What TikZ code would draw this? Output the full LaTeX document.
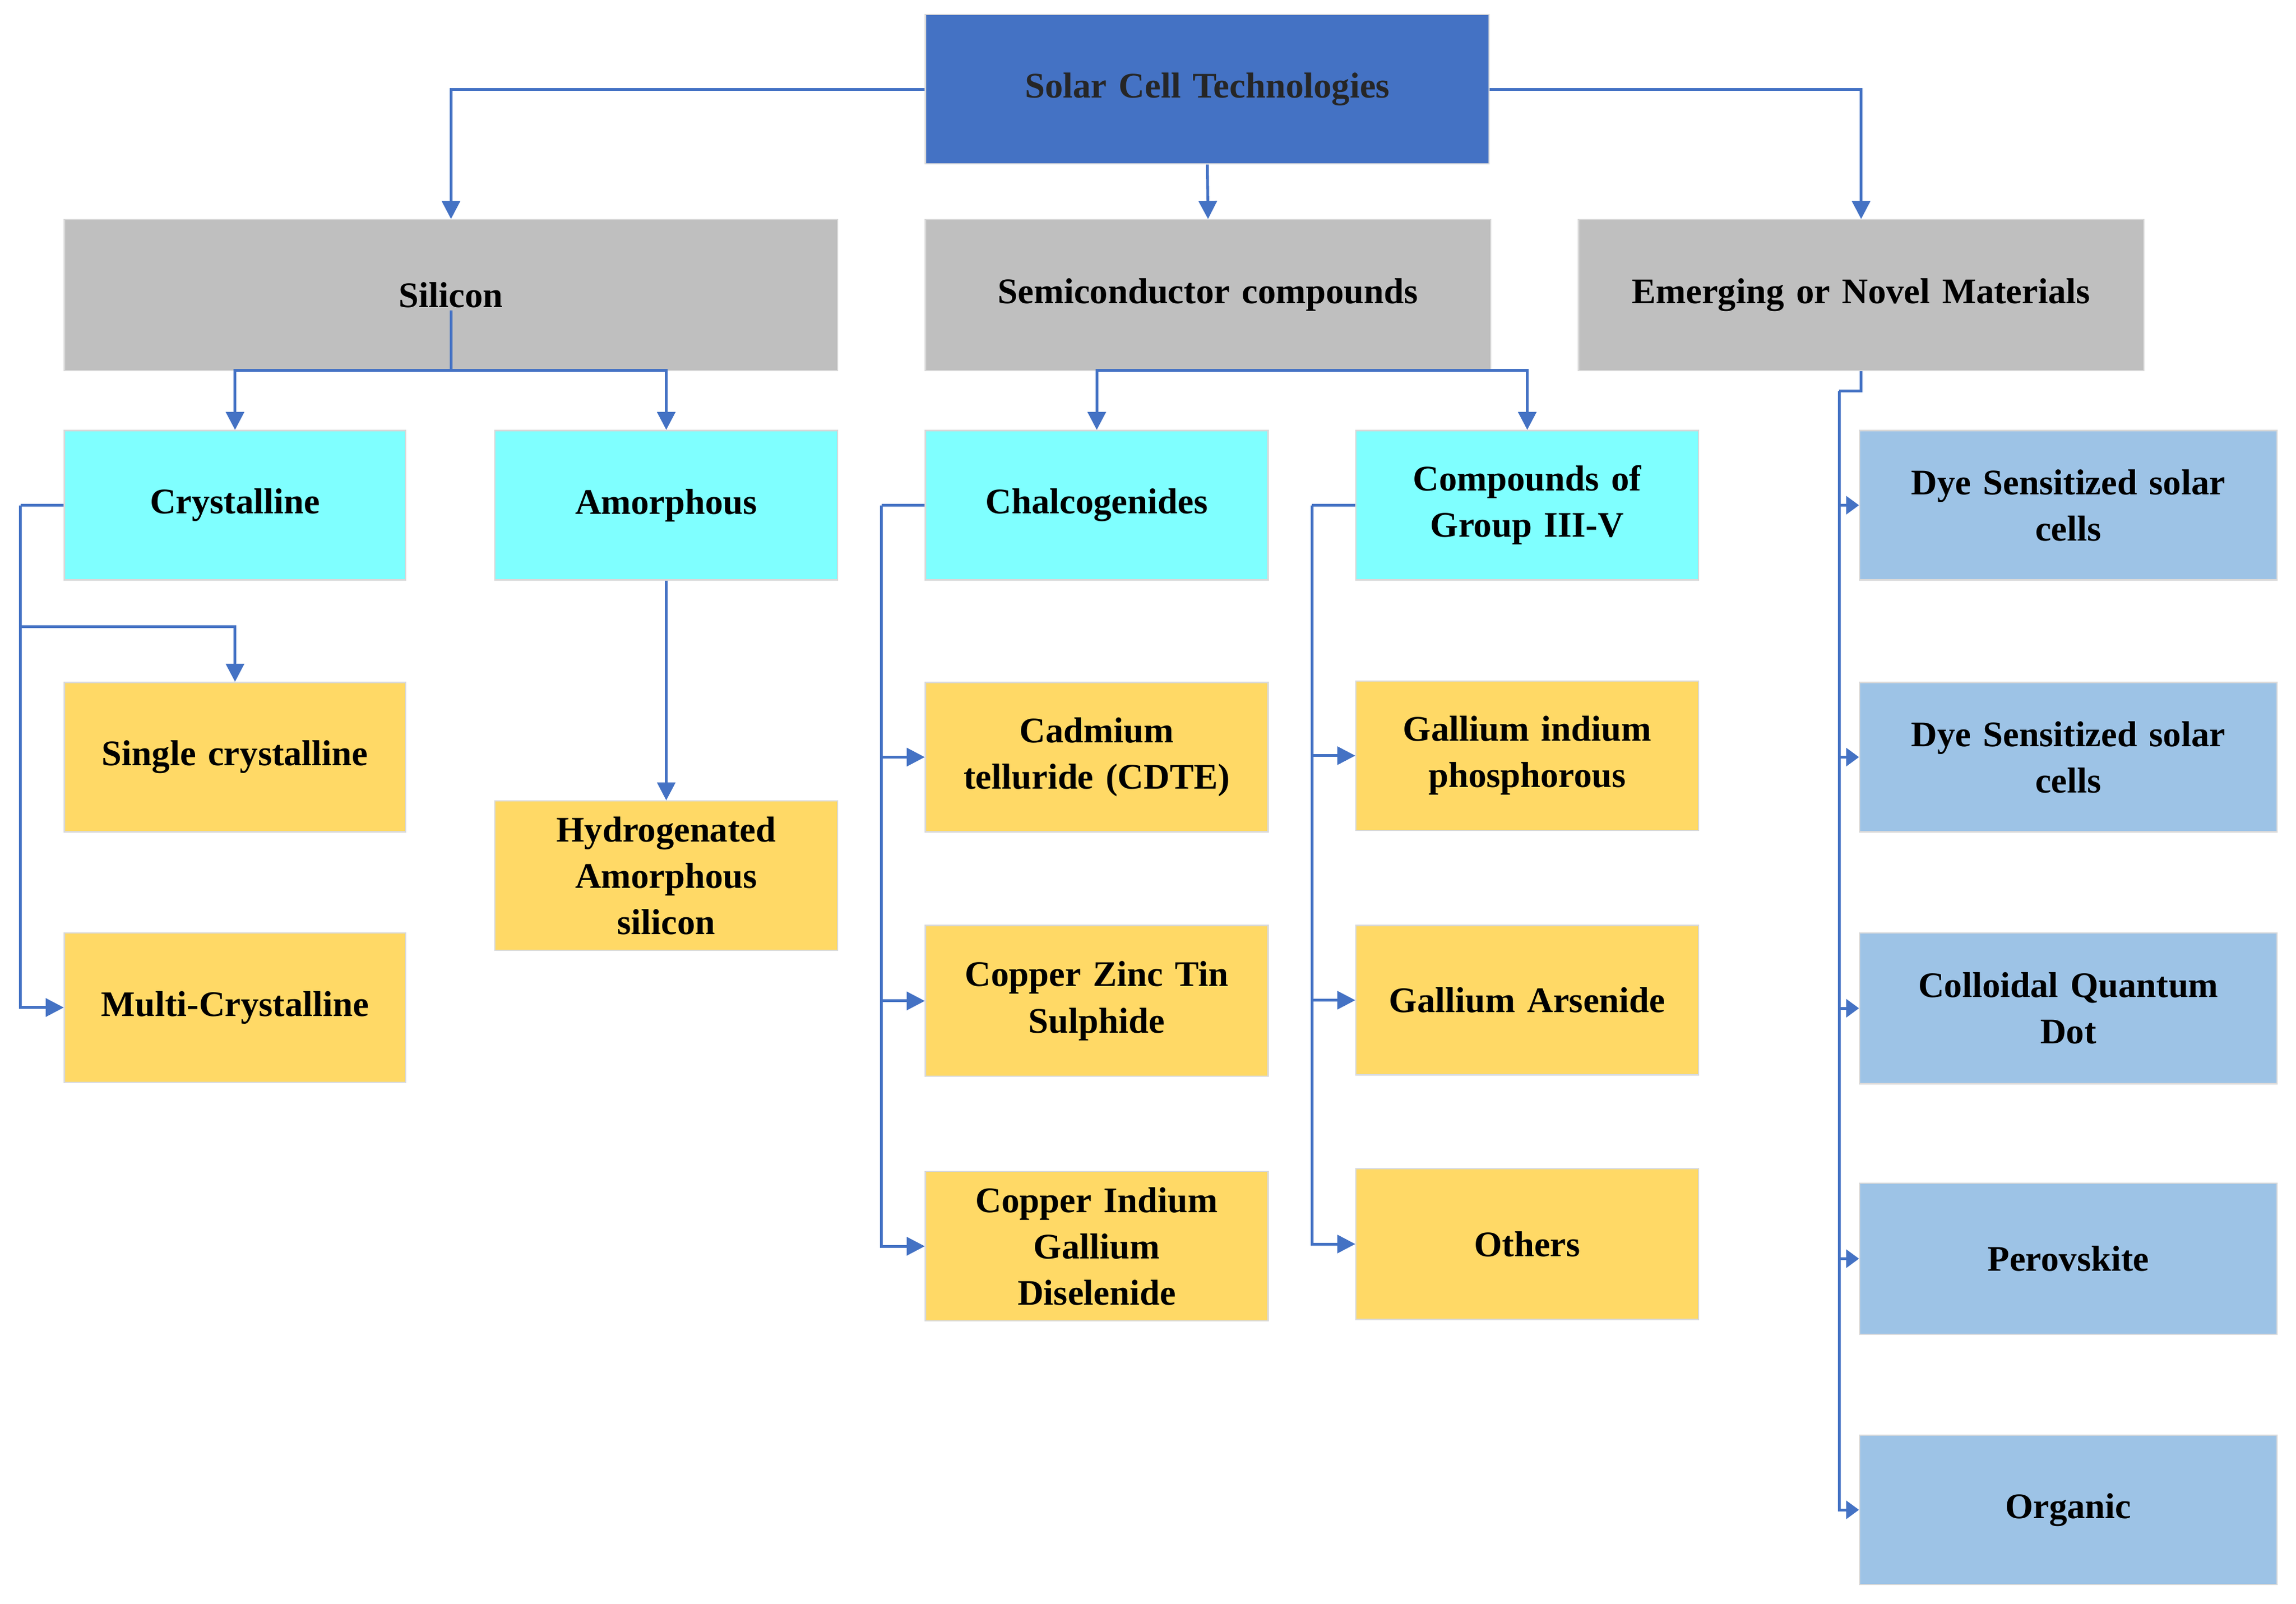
\documentclass[tikz,border=0pt]{standalone}
\usepackage{fontspec}
\setmainfont{Liberation Serif}
\usetikzlibrary{arrows.meta}
\definecolor{topc}{HTML}{4472C4}
\definecolor{grayc}{HTML}{BFBFBF}
\definecolor{cyanc}{HTML}{7FFFFF}
\definecolor{yelc}{HTML}{FFD966}
\definecolor{bluec}{HTML}{9DC3E6}
\definecolor{linec}{HTML}{4472C4}
\newcommand\bx[7]{\node[box,#6,minimum width={(#4-#2)*0.02cm},minimum height={(#5-#3)*0.02cm}] (#1) at ({(#2+#4)/2},{(#3+#5)/2}) {#7};}
\begin{document}
\begin{tikzpicture}[x=0.02cm,y=-0.02cm,
 box/.style={draw=black!15,line width=0.5pt,inner sep=2pt,align=center,font=\fontsize{14}{18}\selectfont\bfseries,text width=4.2cm},
 top/.style={fill=topc,text=black!85},
 gr/.style={fill=grayc},
 cy/.style={fill=cyanc},
 ye/.style={fill=yelc},
 bl/.style={fill=bluec},
 ln/.style={draw=linec,line width=1.1pt},
 ar/.style={ln,-{Triangle[length=7pt,width=7pt]}}]
\useasboundingbox (0,0) rectangle (1568,1095);
\bx{top}{632}{10}{1017}{112}{top,text width=7cm}{Solar Cell Technologies}
\bx{si}{44}{150}{572}{253}{gr,text width=9cm}{Silicon}
\bx{sc}{632}{150}{1018}{253}{gr,text width=7cm}{Semiconductor compounds}
\bx{em}{1078}{150}{1464}{253}{gr,text width=7cm}{Emerging or Novel Materials}
\bx{cr}{44}{294}{277}{396}{cy}{Crystalline}
\bx{am}{338}{294}{572}{396}{cy}{Amorphous}
\bx{ch}{632}{294}{866}{396}{cy}{Chalcogenides}
\bx{cg}{926}{294}{1160}{396}{cy}{Compounds of\\Group III-V}
\bx{sgl}{44}{466}{277}{568}{ye}{Single crystalline}
\bx{mc}{44}{637}{277}{739}{ye}{Multi-Crystalline}
\bx{hy}{338}{547}{572}{649}{ye}{Hydrogenated\\Amorphous\\silicon}
\bx{cd}{632}{466}{866}{568}{ye}{Cadmium\\telluride (CDTE)}
\bx{cz}{632}{632}{866}{735}{ye}{Copper Zinc Tin\\Sulphide}
\bx{ci}{632}{800}{866}{902}{ye}{Copper Indium\\Gallium\\Diselenide}
\bx{gi}{926}{465}{1160}{567}{ye}{Gallium indium\\phosphorous}
\bx{ga}{926}{632}{1160}{734}{ye}{Gallium Arsenide}
\bx{ot}{926}{798}{1160}{901}{ye}{Others}
\bx{r1}{1270}{294}{1555}{396}{bl,text width=5cm}{Dye Sensitized solar\\cells}
\bx{r2}{1270}{466}{1555}{568}{bl,text width=5cm}{Dye Sensitized solar\\cells}
\bx{r3}{1270}{637}{1555}{740}{bl,text width=5cm}{Colloidal Quantum\\Dot}
\bx{r4}{1270}{808}{1555}{911}{bl,text width=5cm}{Perovskite}
\bx{r5}{1270}{980}{1555}{1082}{bl,text width=5cm}{Organic}
% top
\draw[ar] (top.west) -| (si.north);
\draw[ar] (top.south) -- (sc.north);
\draw[ar] (top.east) -| (em.north);
% silicon
\coordinate (sij) at (308,253);
\draw[ln] (308,212) -- (sij);
\draw[ar] (sij) -| (cr.north);
\draw[ar] (sij) -| (am.north);
% semiconductor
\coordinate (scj) at (825,253);
\draw[ar] (scj) -| (ch.north);
\draw[ar] (scj) -| (cg.north);
% crystalline
\coordinate (crl) at (14,345);
\draw[ln] (cr.west) -- (crl);
\draw[ar] (crl) |- (mc.west);
\draw[ar] (14,428) -| (sgl.north);
% amorphous
\draw[ar] (am.south) -- (hy.north);
% chalcogenides
\coordinate (chl) at (602,345);
\draw[ln] (ch.west) -- (chl);
\draw[ar] (chl) |- (cd.west);
\draw[ar] (chl) |- (cz.west);
\draw[ar] (chl) |- (ci.west);
% group III-V
\coordinate (cgl) at (896,345);
\draw[ln] (cg.west) -- (cgl);
\draw[ar] (cgl) |- (gi.west);
\draw[ar] (cgl) |- (ga.west);
\draw[ar] (cgl) |- (ot.west);
% emerging
\coordinate (emj) at (1256,267);
\draw[ln] (em.south) -- (1271,267) -- (emj);
\foreach \r in {r1,r2,r3,r4,r5} \draw[ar,-{Triangle[length=5pt,width=7pt]}] (emj) |- (\r.west);
\end{tikzpicture}
\end{document}
